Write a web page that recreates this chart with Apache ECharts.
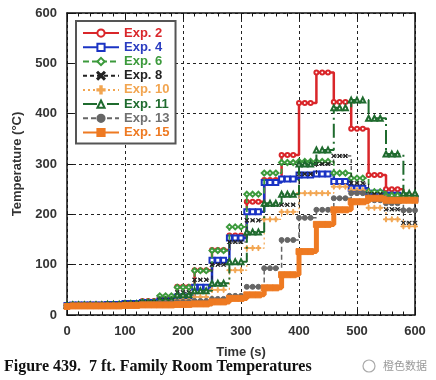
<!DOCTYPE html>
<html><head><meta charset="utf-8">
<script src="https://cdn.jsdelivr.net/npm/echarts@6.0.0/dist/echarts.min.js"></script>
<style>html,body{margin:0;padding:0;background:#fff}#c{width:436px;height:380px}</style>
</head><body><div id="c"></div>
<script>
// sample times (s)
const time = [0,10,20,30,40,50,60,70,80,90,100,110,120,130,140,150,160,170,180,190,200,210,220,230,240,250,260,270,280,290,300,310,320,330,340,350,360,370,380,390,400,410,420,430,440,450,460,470,480,490,500,510,520,530,540,550,560,570,580,590,600];
const xTicks = [0,100,200,300,400,500,600];
const yTicks = [0,100,200,300,400,500,600];
const seriesNames = ['Exp. 2','Exp. 4','Exp. 6','Exp. 8','Exp. 10','Exp. 11','Exp. 13','Exp. 15'];
// temperatures (°C) read at each sample time
const exp2  = [20,20,20,20,21,21,21,22,22,22,24,24,24,28,28,28,36,36,36,56,56,56,89,89,89,129,129,129,158,158,158,225,225,225,268,268,268,318,318,318,421,421,421,482,482,482,423,423,423,370,370,370,278,278,278,250,250,250,238,238,238];
const exp4  = [19,20,20,20,20,20,20,21,21,21,23,23,23,25,25,25,28,28,28,36,36,36,55,55,55,109,109,109,153,153,153,205,205,205,263,263,263,270,270,270,278,278,278,280,280,280,265,265,265,252,252,252,242,242,242,238,238,238,232,232,232];
const exp6  = [19,20,20,20,20,20,20,21,21,21,23,23,23,26,26,26,38,38,38,55,55,55,88,88,88,128,128,128,175,175,175,240,240,240,282,282,282,303,303,303,305,305,305,305,305,305,282,282,282,272,272,272,245,245,245,238,238,238,235,235,235];
const exp8  = [19,20,20,20,20,20,20,21,21,21,23,23,23,25,25,25,30,30,30,45,45,45,70,70,70,100,100,100,145,145,145,188,188,188,219,219,219,219,219,219,280,280,280,300,300,300,316,316,316,262,262,262,240,240,240,210,210,210,183,183,183];
const exp10 = [18,19,19,19,20,20,20,20,20,20,22,22,22,23,23,23,26,26,26,30,30,30,36,36,36,50,50,50,89,89,89,133,133,133,190,190,190,205,205,205,242,242,242,242,242,242,255,255,255,248,248,248,213,213,213,190,190,190,176,176,176];
const exp11 = [19,20,20,20,20,20,20,21,21,21,22,22,22,24,24,24,30,30,30,40,40,40,48,48,48,63,63,63,106,106,106,165,165,165,222,222,222,240,240,240,300,300,300,328,328,328,412,412,412,427,427,427,391,391,391,320,320,320,242,242,242];
const exp13 = [18,19,19,19,19,19,19,20,20,20,21,21,21,22,22,22,24,24,24,26,26,26,28,28,28,32,32,32,38,38,38,56,56,56,93,93,93,149,149,149,193,193,193,209,209,209,232,232,232,242,242,242,228,228,228,222,222,222,208,208,208];
const exp15 = [17,18,18,18,18,18,18,18,18,18,19,19,19,20,20,20,20,20,20,21,21,21,22,22,22,26,26,26,33,33,33,40,40,40,54,54,54,80,80,80,126,126,126,180,180,180,209,209,209,225,225,225,232,232,232,228,228,228,228,228,228];

const values = [exp2, exp4, exp6, exp8, exp10, exp11, exp13, exp15];
const colors = ['#d9262a','#1a33c4','#3c9a3c','#222222','#f2a550','#1f6b2e','#666666','#ee7a22'];
const textColors = ['#d9262a','#2a3cc0','#3c9a3c','#222222','#f2a550','#1f6b2e','#707070','#ee7a22'];
const X_PATH = 'path://M0,1L1,0L5,4L9,0L10,1L6,5L10,9L9,10L5,6L1,10L0,9L4,5Z';
const PLUS_PATH = 'path://M4,0H6V4H10V6H6V10H4V6H0V4H4Z';
const styles = [
  {type:'solid', width:2.5, symbol:'emptyCircle', size:4},
  {type:'solid', width:2.5, symbol:'emptyRect', size:5},
  {type:[6,3], width:1.8, symbol:'emptyDiamond', size:5},
  {type:[4,3], width:1, symbol:X_PATH, size:4},
  {type:[2,3], width:1.2, symbol:PLUS_PATH, size:5},
  {type:[14,4,2,4], width:2, symbol:'emptyTriangle', size:5},
  {type:[5,3], width:1.5, symbol:'circle', size:5},
  {type:'solid', width:5, symbol:'rect', size:6}
];
const FONT = '"Liberation Sans", Arial, sans-serif';

const series = seriesNames.map((n, i) => ({
  name: n, type: 'line', step: 'end',
  data: time.map((t, j) => [t, values[i][j]]),
  symbol: styles[i].symbol, symbolSize: styles[i].size,
  lineStyle: {color: colors[i], width: styles[i].width, type: styles[i].type},
  itemStyle: {color: colors[i], borderColor: colors[i], borderWidth: 1},
  emphasis: {disabled: true}, z: 2 + i
}));

const chart = echarts.init(document.getElementById('c'), null, {renderer: 'canvas'});
chart.setOption({
  animation: false,
  backgroundColor: '#fff',
  grid: {left: 67, right: 21, top: 13, bottom: 65, outerBoundsMode: 'none', show: false},
  xAxis: [{
    type: 'value', min: xTicks[0], max: xTicks[xTicks.length-1], interval: 100,
    name: 'Time (s)', nameLocation: 'middle', nameGap: 31,
    nameTextStyle: {fontFamily: FONT, fontWeight: 'bold', fontSize: 13, color: '#333'},
    axisLine: {show: true, onZero: false, lineStyle: {color: '#111', width: 1.5}},
    axisTick: {show: true, inside: true, length: 6, lineStyle: {color: '#111'}},
    minorTick: {show: true, splitNumber: 5, length: 3.5, lineStyle: {color: '#111'}},
    axisLabel: {margin: 10, fontFamily: FONT, fontWeight: 'bold', fontSize: 13, color: '#333'},
    splitLine: {show: true, lineStyle: {color: '#222', type: [3,3], width: 1}}
  }, {
    type: 'value', position: 'top', min: xTicks[0], max: xTicks[xTicks.length-1], interval: 100,
    axisLine: {show: true, onZero: false, lineStyle: {color: '#111', width: 1.5}},
    axisTick: {show: true, inside: true, length: 6, lineStyle: {color: '#111'}},
    minorTick: {show: true, splitNumber: 5, length: 3.5, lineStyle: {color: '#111'}},
    axisLabel: {show: false}, splitLine: {show: false}
  }],
  yAxis: [{
    type: 'value', min: yTicks[0], max: yTicks[yTicks.length-1], interval: 100,
    name: 'Temperature (°C)', nameLocation: 'middle', nameGap: 43,
    nameTextStyle: {fontFamily: FONT, fontWeight: 'bold', fontSize: 13, color: '#333'},
    axisLine: {show: true, onZero: false, lineStyle: {color: '#111', width: 1.5}},
    axisTick: {show: true, inside: true, length: 6, lineStyle: {color: '#111'}},
    axisLabel: {margin: 10, fontFamily: FONT, fontWeight: 'bold', fontSize: 13, color: '#333'},
    splitLine: {show: true, lineStyle: {color: '#222', type: [3,3], width: 1}}
  }, {
    type: 'value', position: 'right', min: yTicks[0], max: yTicks[yTicks.length-1], interval: 100,
    axisLine: {show: true, onZero: false, lineStyle: {color: '#111', width: 1.5}},
    axisTick: {show: false}, axisLabel: {show: false}, splitLine: {show: false}
  }],
  legend: {
    orient: 'vertical', left: 76, top: 21, padding: [5, 6, 4, 6],
    itemWidth: 36, itemHeight: 9, itemGap: 0,
    backgroundColor: '#fff', borderColor: '#555', borderWidth: 2, borderRadius: 0,
    textStyle: {fontFamily: FONT, fontWeight: 'bold', fontSize: 13, lineHeight: 14.2},
    selectedMode: false,
    data: seriesNames.map((n, i) => ({name: n, textStyle: {color: textColors[i]}}))
  },
  series: series,
  graphic: [
    {type: 'text', left: 4, top: 359, style: {text: 'Figure 439.  7 ft. Family Room Temperatures', font: 'bold 16px "Liberation Serif", "Times New Roman", serif', fill: '#111'}},
    {type: 'circle', shape: {cx: 369, cy: 366, r: 6}, style: {fill: 'none', stroke: '#aaa', lineWidth: 1.2}},
    {type: 'text', left: 383, top: 360, style: {text: '橙色数据', font: '11px "Noto Sans CJK SC", sans-serif', fill: '#999'}}
  ]
});
</script></body></html>
